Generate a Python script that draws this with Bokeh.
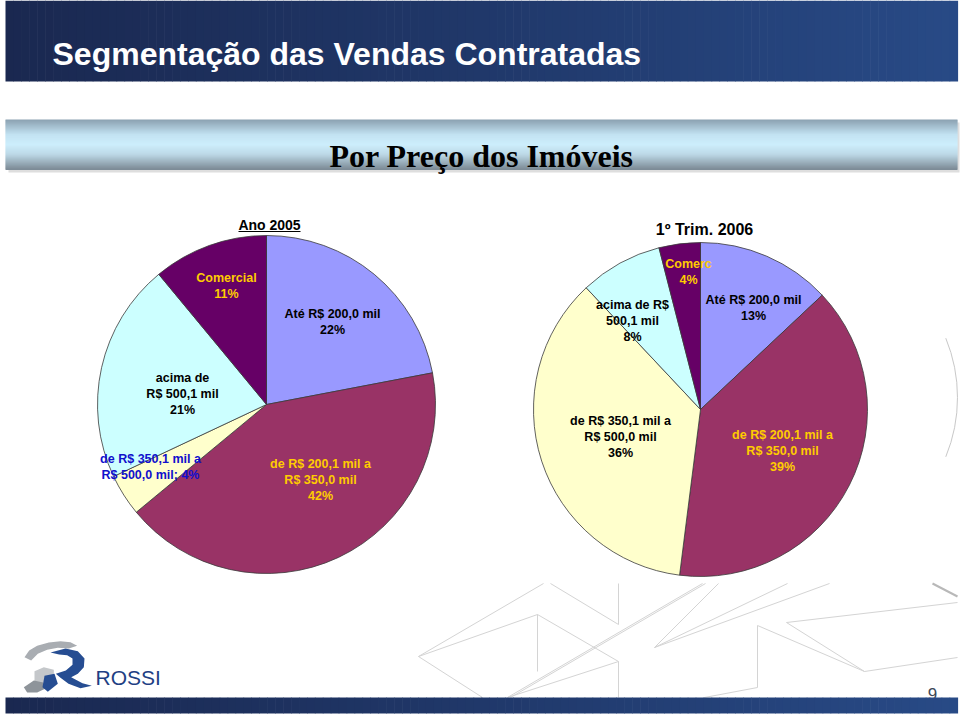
import numpy as np
from bokeh.plotting import figure
from bokeh.models import Range1d, ColumnDataSource
from bokeh.core.properties import value
from bokeh.embed import file_html
from bokeh.resources import INLINE

# ---------------- data ----------------
segments = ["Até R$ 200,0 mil", "de R$ 200,1 mil a R$ 350,0 mil",
            "de R$ 350,1 mil a R$ 500,0 mil", "acima de R$ 500,1 mil", "Comercial"]
share_2005 = [22, 42, 4, 21, 11]
share_2006q1 = [13, 39, 36, 8, 4]
pie_titles = ["Ano 2005", "1º Trim. 2006"]
label_tmpl_2005 = ["Até R$ 200,0 mil\n{p}%", "de R$ 200,1 mil a\nR$ 350,0 mil\n{p}%",
                   "de R$ 350,1 mil a\nR$ 500,0 mil; {p}%", "acima de\nR$ 500,1 mil\n{p}%",
                   "Comercial\n{p}%"]
label_tmpl_2006 = ["Até R$ 200,0 mil\n{p}%", "de R$ 200,1 mil a\nR$ 350,0 mil\n{p}%",
                   "de R$ 350,1 mil a\nR$ 500,0 mil\n{p}%", "acima de R$\n500,1 mil\n{p}%",
                   "Comerc\n{p}%"]
slide_title = "Segmentação das Vendas Contratadas"
slide_subtitle = "Por Preço dos Imóveis"
page_number = "9"

# ---------------- styles / layout ----------------
slice_colors = ["#9999FF", "#993366", "#FFFFCC", "#CCFFFF", "#660066"]
label_colors_2005 = ["#000000", "#FFCC00", "#1010CC", "#000000", "#FFCC00"]
label_colors_2006 = ["#000000", "#FFCC00", "#000000", "#000000", "#FFCC00"]
pie_geom = [(266, 404, 169), (700, 409, 167)]          # page px: cx, cy, r
label_pos_2005 = [(332, 313), (320, 463), (150, 458), (182, 377), (226, 277)]
label_pos_2006 = [(753, 299), (782, 434), (620, 420), (632, 304), (688, 263)]
LINE_STEP = 16
FONT = "Liberation Sans"

W, H = 960, 716
p = figure(width=W, height=H, x_range=Range1d(0, W), y_range=Range1d(-H, 0),
           output_backend="svg", toolbar_location=None, min_border=0,
           x_axis_location=None, y_axis_location=None)
p.xgrid.visible = False
p.ygrid.visible = False
p.outline_line_color = None
p.background_fill_color = "white"
p.border_fill_color = "white"


def Y(v):
    return -v


def hex2rgb(h):
    h = h.lstrip("#")
    return [int(h[i:i + 2], 16) for i in (0, 2, 4)]


def grad(stops, t):
    for (t0, c0), (t1, c1) in zip(stops[:-1], stops[1:]):
        if t0 <= t <= t1:
            f = 0 if t1 == t0 else (t - t0) / (t1 - t0)
            a, b = hex2rgb(c0), hex2rgb(c1)
            return "#%02x%02x%02x" % tuple(int(round(a[i] + (b[i] - a[i]) * f)) for i in range(3))
    return stops[-1][1]


def hbar_gradient(x0, x1, y0, y1, stops, n=120):
    xs = np.linspace(x0, x1, n + 1)
    cols = [grad(stops, (i + 0.5) / n) for i in range(n)]
    p.quad(left=xs[:-1], right=xs[1:] + 0.6, top=[Y(y0)] * n, bottom=[Y(y1)] * n,
           fill_color=cols, line_color=None)


def vbar_gradient(x0, x1, y0, y1, stops, n=50):
    ys = np.linspace(y0, y1, n + 1)
    cols = [grad(stops, (i + 0.5) / n) for i in range(n)]
    p.quad(left=[x0] * n, right=[x1] * n, top=[Y(v) for v in ys[:-1]],
           bottom=[Y(v) - 0.6 for v in ys[1:]], fill_color=cols, line_color=None)


# ---------------- decorative background lines ----------------
deco = [((418, 656), (543, 583)), ((550, 583), (618, 624)), ((618, 583), (618, 624)),
        ((418, 656), (537, 614)), ((537, 614), (618, 661)), ((537, 614), (537, 671)),
        ((418, 656), (482, 697)), ((507, 697), (702, 583)), ((510, 697), (705, 583)),
        ((507, 697), (618, 661)), ((618, 661), (618, 697)), ((654, 647), (787, 583)),
        ((654, 647), (829, 583)), ((654, 647), (718, 583)), ((757, 625), (757, 687)),
        ((757, 625), (864, 671)), ((864, 671), (957, 657)), ((786, 622), (957, 602)),
        ((786, 622), (864, 671)), ((704, 697), (757, 687))]
p.segment(x0=[a[0] for a, b in deco], y0=[Y(a[1]) for a, b in deco],
          x1=[b[0] for a, b in deco], y1=[Y(b[1]) for a, b in deco],
          line_color="#d4d4d4", line_width=1)
p.segment(x0=[932], y0=[Y(583)], x1=[957], y1=[Y(596)], line_color="#b8b8b8", line_width=2)
p.arc(x=[801], y=[Y(397)], radius=156, start_angle=-0.39, end_angle=0.39,
      line_color="#c8c8c8", line_width=1)

# ---------------- title bar ----------------
hbar_gradient(5, 957, 0, 81, [(0, "#1a2850"), (0.5, "#20386a"), (1, "#284a86")])
p.text(x=[52], y=[Y(53)], text=[slide_title], text_font=value(FONT), text_font_style="bold",
       text_font_size="32px", text_color="white", text_align="left", text_baseline="alphabetic")

# ---------------- subtitle bar ----------------
p.quad(left=[8], right=[959], top=[Y(122)], bottom=[Y(172)], fill_color="#c8c8c8",
       line_color=None, fill_alpha=0.6)
vbar_gradient(5, 957, 119, 169, [(0, "#8aa0b0"), (0.3, "#c2e2f2"), (0.5, "#cdeefc"),
                                 (0.7, "#bcd8e6"), (1, "#7b8994")])
p.text(x=[481], y=[Y(155)], text=[slide_subtitle], text_font=value("Liberation Serif"),
       text_font_style="bold", text_font_size="32px", text_color="black",
       text_align="center", text_baseline="alphabetic")

# ---------------- pies ----------------
for (cx, cy, r), shares, tmpls, lcols, lpos, title in [
        (pie_geom[0], share_2005, label_tmpl_2005, label_colors_2005, label_pos_2005, pie_titles[0]),
        (pie_geom[1], share_2006q1, label_tmpl_2006, label_colors_2006, label_pos_2006, pie_titles[1])]:
    vals = np.array(shares, dtype=float)
    cum = np.concatenate([[0], np.cumsum(vals)]) / vals.sum()
    start = np.pi / 2 - 2 * np.pi * cum[1:]
    end = np.pi / 2 - 2 * np.pi * cum[:-1]
    src = ColumnDataSource(dict(start=start, end=end, color=slice_colors, seg=segments,
                                share=shares))
    p.wedge(x=cx, y=Y(cy), radius=r, start_angle="start", end_angle="end",
            fill_color="color", line_color="#3a3a3a", line_width=0.8, source=src)
    xs, ys, ts, cs = [], [], [], []
    for tmpl, v, col, (lx, ly) in zip(tmpls, shares, lcols, lpos):
        for k, line in enumerate(tmpl.format(p=v).split("\n")):
            xs.append(lx)
            ys.append(Y(ly + k * LINE_STEP))
            ts.append(line)
            cs.append(col)
    p.text(x=xs, y=ys, text=ts, text_color=cs, text_font=value(FONT), text_font_style="bold",
           text_font_size="12.5px", text_align="center", text_baseline="middle")

# pie titles
p.text(x=[269], y=[Y(224)], text=[pie_titles[0]], text_font=value(FONT), text_font_style="bold",
       text_font_size="14px", text_color="black", text_align="center", text_baseline="middle")
p.segment(x0=[238], y0=[Y(231)], x1=[300], y1=[Y(231)], line_color="black", line_width=1)
p.text(x=[704], y=[Y(229)], text=[pie_titles[1]], text_font=value(FONT), text_font_style="bold",
       text_font_size="16px", text_color="black", text_align="center", text_baseline="middle")

# ---------------- logo ----------------
def logo_pts(pts):
    return [x / 3 for x, y in pts], [Y(620 + y / 3) for x, y in pts]


gray_swoosh = [(72, 110), (86, 90), (110, 76), (145, 66), (180, 62), (210, 65), (230, 76),
               (205, 84), (172, 82), (140, 88), (112, 100), (92, 120)]
gray_cube = [(102, 152), (130, 140), (160, 148), (160, 192), (134, 202), (102, 190)]
blue_r = [(150, 96), (195, 84), (232, 92), (252, 114), (250, 140), (232, 160), (212, 170),
          (246, 188), (274, 196), (240, 203), (204, 190), (180, 172), (166, 160), (196, 150),
          (216, 133), (216, 114), (200, 104), (176, 102)]
blue_low = [(70, 200), (100, 180), (128, 186), (140, 202), (110, 216), (80, 216)]
blue_mid = [(132, 166), (162, 160), (172, 190), (142, 214), (126, 200)]
for pts, col in [(gray_swoosh, "#a9adb2"), (gray_cube, "#c4c7ca"), (blue_r, "#264d92"),
                 (blue_low, "#8e949a"), (blue_mid, "#264d92")]:
    lx, ly = logo_pts(pts)
    p.patch(lx, ly, fill_color=col, line_color=None)
p.text(x=[95], y=[Y(677)], text=["ROSSI"], text_font=value(FONT), text_font_size="21px",
       text_color="#1f3f84", text_align="left", text_baseline="alphabetic")

# ---------------- footer ----------------
p.text(x=[932], y=[Y(693)], text=[page_number], text_font=value(FONT), text_font_size="17px",
       text_color="#3c4858", text_align="center", text_baseline="alphabetic")
hbar_gradient(5, 957, 697, 713, [(0, "#1a2850"), (0.5, "#20386a"), (1, "#284a86")])

open("out.html", "w").write(file_html(p, INLINE))
